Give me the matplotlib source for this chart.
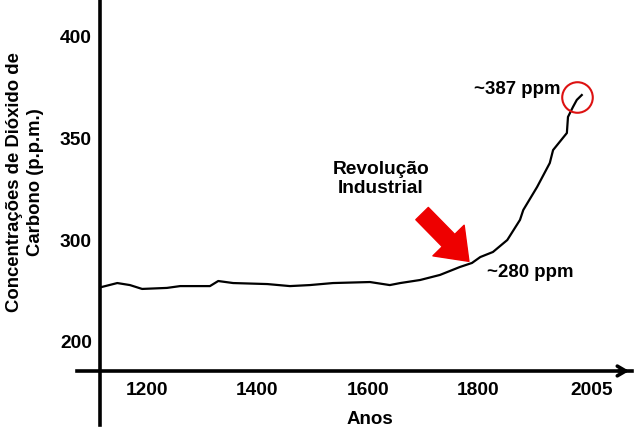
import matplotlib.pyplot as plt

# Dados (anos, concentração em ppm na escala do eixo)
anos = [1117, 1146, 1169, 1191, 1236, 1260, 1314, 1329, 1356, 1418, 1459, 1495,
        1537, 1604, 1640, 1659, 1695, 1731, 1767, 1789, 1804, 1827, 1853, 1876,
        1882, 1907, 1930, 1936, 1961, 1963, 1972, 1979, 1988]
co2 = [276.8, 278.8, 277.8, 275.9, 276.4, 277.3, 277.3, 279.8, 278.8, 278.3, 277.3, 277.8,
       278.8, 279.3, 277.8, 278.8, 280.3, 282.8, 286.7, 288.7, 291.6, 294.1, 300.0, 309.9,
       314.8, 326.1, 337.9, 344.3, 352.7, 360.6, 365.5, 369.0, 371.4]

xticks = [1200, 1400, 1600, 1800, 2005]
yticks = [250, 300, 350, 400]
ytick_labels = ['200', '300', '350', '400']

plt.rcParams['font.family'] = ['Liberation Sans', 'DejaVu Sans']
plt.rcParams['font.weight'] = 'bold'

fig = plt.figure(figsize=(6.39, 4.45), dpi=100)
ax = fig.add_axes([0.1205, 0.045, 0.8685, 0.955])

ax.plot(anos, co2, color='black', lw=1.6)
ax.set_xlim(1073, 2079)
ax.set_ylim(208.9, 418.2)

# eixos cruzados
for s in ['top', 'right']:
    ax.spines[s].set_visible(False)
ax.spines['left'].set_position(('data', 1115))
ax.spines['bottom'].set_position(('data', 235.5))
ax.spines['left'].set_linewidth(2.6)
ax.spines['bottom'].set_linewidth(2.6)
ax.annotate('', xy=(2079, 235.5), xytext=(2050, 235.5),
            arrowprops=dict(arrowstyle='->,head_length=0.6,head_width=0.35', lw=2.6, color='black'),
            annotation_clip=False)

ax.set_xticks(xticks)
ax.set_xticklabels([str(t) for t in xticks], fontsize=13.8, fontweight='bold')
ax.set_yticks(yticks)
ax.set_yticklabels(ytick_labels, fontsize=13.8, fontweight='bold')
ax.tick_params(length=0)
ax.tick_params(axis='y', pad=6)
ax.tick_params(axis='x', pad=8)

fig.text(370 / 639, 1 - 420 / 445, 'Anos', ha='center', va='center', fontsize=13.5, fontweight='bold')
fig.text(25 / 639, 1 - 182 / 445, 'Concentrações de Dióxido de\nCarbono (p.p.m.)',
         rotation=90, ha='center', va='center', multialignment='center',
         fontsize=13.3, fontweight='bold', linespacing=1.25)

# anotações
ax.text(1624, 330, 'Revolução\nIndustrial', ha='center', va='center', fontsize=13.8,
        fontweight='bold', linespacing=1.15)
ax.annotate('', xy=(1787, 288.5), xytext=(1695, 314),
            arrowprops=dict(arrowstyle='simple,head_width=1.5,head_length=1.0,tail_width=0.6',
                            color='#ee0000', mutation_scale=21))
ax.text(1816, 284.2, '~280 ppm', ha='left', va='center', fontsize=13.4, fontweight='bold')
ax.text(1950, 374, '~387 ppm', ha='right', va='center', fontsize=13.4, fontweight='bold')
ax.plot([1979], [370.4], 'o', ms=22, mfc='none', mec='#dd1111', mew=1.5)

fig.savefig('out.png', dpi=100)
